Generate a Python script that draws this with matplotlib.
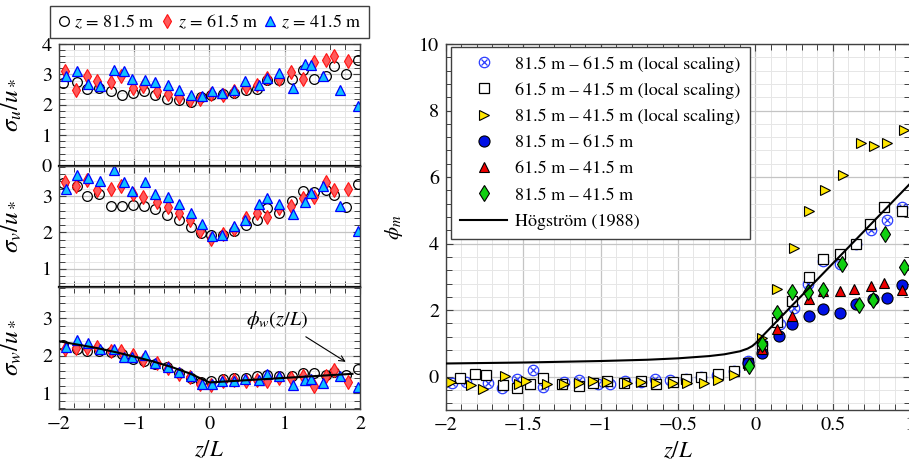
import matplotlib
matplotlib.use("Agg")
import matplotlib.pyplot as plt
from matplotlib.ticker import MultipleLocator
from matplotlib.lines import Line2D

plt.rcParams['font.family'] = ['STIXGeneral', 'DejaVu Serif']
plt.rcParams['mathtext.fontset'] = 'stix'

# ---------------- left panels: sigma / u* -----------------
x_815 = [-1.95, -1.76, -1.63, -1.47, -1.31, -1.16, -1.02, -0.87, -0.72, -0.56, -0.40, -0.25, -0.11,
         0.02, 0.18, 0.32, 0.48, 0.63, 0.77, 0.93, 1.09, 1.24, 1.39, 1.55, 1.66, 1.81, 1.97]
x_615 = [-1.92, -1.77, -1.63, -1.49, -1.31, -1.18, -1.01, -0.88, -0.70, -0.55, -0.40, -0.26, -0.12,
         0.02, 0.18, 0.32, 0.48, 0.63, 0.77, 0.93, 1.08, 1.24, 1.39, 1.55, 1.66, 1.84]
x_415 = [-1.91, -1.76, -1.61, -1.45, -1.27, -1.14, -1.03, -0.86, -0.72, -0.55, -0.40, -0.25, -0.10,
         0.03, 0.17, 0.32, 0.47, 0.66, 0.77, 0.93, 1.11, 1.27, 1.35, 1.51, 1.74, 1.98]

su_815 = [2.72, 2.74, 2.52, 2.55, 2.44, 2.33, 2.39, 2.44, 2.31, 2.19, 2.17, 2.09, 2.26,
          2.33, 2.36, 2.39, 2.50, 2.52, 2.83, 2.83, 2.86, 3.16, 2.86, 2.96, 3.27, 3.00, 3.48]
su_615 = [3.12, 2.50, 2.96, 2.77, 2.74, 2.96, 2.55, 2.63, 2.47, 2.37, 2.26, 2.17, 2.20,
          2.36, 2.33, 2.44, 2.59, 2.66, 2.88, 2.85, 3.07, 2.85, 3.40, 3.48, 3.59, 3.43]
su_415 = [2.94, 3.10, 2.68, 2.63, 3.13, 3.10, 2.85, 2.83, 2.74, 2.66, 2.50, 2.33, 2.30,
          2.47, 2.39, 2.48, 2.77, 2.66, 2.87, 3.05, 2.55, 3.34, 3.32, 2.94, 2.50, 1.97]

sv_815 = [3.35, 3.26, 3.00, 3.05, 2.72, 2.71, 2.75, 2.72, 2.64, 2.48, 2.34, 2.14, 1.97,
          1.94, 1.93, 2.04, 2.20, 2.34, 2.68, 2.54, 2.86, 3.14, 3.10, 3.15, 3.03, 2.69, 3.32]
sv_615 = [3.38, 3.28, 3.44, 3.17, 3.20, 3.26, 3.06, 2.98, 2.84, 2.69, 2.52, 2.34, 2.04,
          1.83, 1.95, 2.08, 2.39, 2.52, 2.43, 2.66, 2.71, 2.95, 2.97, 3.39, 3.17, 3.19]
sv_415 = [3.18, 3.58, 3.50, 3.41, 3.70, 3.39, 3.14, 3.39, 3.05, 2.96, 2.77, 2.52, 2.23,
          1.90, 1.94, 2.17, 2.34, 2.77, 2.95, 2.77, 2.50, 2.84, 3.09, 3.26, 2.72, 2.05]

sw_815 = [2.28, 2.19, 2.13, 2.13, 2.09, 2.05, 1.92, 1.87, 1.78, 1.69, 1.54, 1.42, 1.30,
          1.33, 1.38, 1.40, 1.42, 1.45, 1.49, 1.45, 1.47, 1.54, 1.54, 1.48, 1.58, 1.49, 1.64]
sw_615 = [2.18, 2.20, 2.20, 2.25, 2.12, 2.13, 2.03, 1.89, 1.80, 1.67, 1.52, 1.43, 1.24,
          1.23, 1.33, 1.36, 1.33, 1.36, 1.33, 1.40, 1.42, 1.45, 1.20, 1.45, 1.61, 1.29]
sw_415 = [2.25, 2.43, 2.34, 2.19, 2.18, 1.98, 1.96, 2.03, 1.82, 1.70, 1.58, 1.45, 1.25,
          1.25, 1.32, 1.32, 1.39, 1.36, 1.51, 1.45, 1.23, 1.36, 1.38, 1.27, 1.47, 1.18]

phiw_x = [-2.0, -1.75, -1.5, -1.25, -1.0, -0.75, -0.5, -0.25, -0.1, 0.0, 1.9]
phiw_y = [2.39, 2.30, 2.21, 2.10, 1.98, 1.85, 1.70, 1.52, 1.38, 1.29, 1.52]

left_labels = [r'$z\,=\,81.5$ m', r'$z\,=\,61.5$ m', r'$z\,=\,41.5$ m']

# ---------------- right panel: phi_m -----------------
ox_x = [-1.96, -1.87, -1.73, -1.64, -1.54, -1.44, -1.37, -1.24, -1.14, -1.02, -0.94, -0.84, -0.74, -0.65,
        -0.55, -0.45, -0.35, -0.25, -0.14, -0.05, 0.04, 0.16, 0.25, 0.34, 0.44, 0.55, 0.65, 0.75, 0.85, 0.95]
ox_y = [-0.18, -0.15, -0.20, -0.33, -0.08, 0.20, -0.30, -0.15, -0.10, -0.22, -0.22, -0.13, -0.15, -0.08,
        -0.10, -0.08, 0.00, 0.05, 0.17, 0.47, 0.97, 1.58, 2.08, 2.78, 3.48, 3.38, 4.00, 4.41, 4.72, 5.09]

sq_x = [-1.91, -1.81, -1.74, -1.63, -1.54, -1.46, -1.37, -1.25, -1.14, -1.05, -0.96, -0.85, -0.74, -0.64,
        -0.53, -0.45, -0.35, -0.24, -0.14, -0.05, 0.04, 0.14, 0.24, 0.35, 0.44, 0.55, 0.65, 0.74, 0.83, 0.95]
sq_y = [-0.05, 0.07, 0.05, -0.25, -0.33, -0.23, -0.03, -0.22, -0.27, -0.18, -0.13, -0.18, -0.13, -0.23,
        -0.15, -0.08, 0.00, 0.07, 0.17, 0.42, 0.92, 1.65, 2.28, 3.00, 3.55, 3.70, 3.99, 4.59, 5.09, 4.99]

tr_x = [-1.97, -1.84, -1.76, -1.62, -1.53, -1.48, -1.35, -1.24, -1.14, -1.05, -0.96, -0.83, -0.74, -0.64,
        -0.53, -0.44, -0.33, -0.24, -0.14, -0.04, 0.04, 0.14, 0.25, 0.35, 0.45, 0.57, 0.68, 0.77, 0.85, 0.96]
tr_y = [-0.15, -0.25, -0.38, 0.02, -0.23, -0.12, -0.23, -0.22, -0.18, -0.13, -0.15, -0.18, -0.15, -0.20,
        -0.18, -0.20, -0.18, -0.10, 0.05, 0.35, 1.17, 2.63, 3.86, 4.99, 5.62, 6.07, 7.02, 6.93, 7.03, 7.43]

bc_x = [-0.05, 0.04, 0.15, 0.24, 0.35, 0.44, 0.55, 0.65, 0.76, 0.85, 0.95]
bc_y = [0.40, 0.71, 1.21, 1.58, 1.82, 2.04, 1.93, 2.19, 2.35, 2.38, 2.76]

rt_x = [0.04, 0.14, 0.24, 0.35, 0.44, 0.55, 0.64, 0.75, 0.83, 0.95]
rt_y = [0.82, 1.42, 1.84, 2.33, 2.58, 2.57, 2.64, 2.72, 2.82, 2.60]

gd_x = [-0.04, 0.04, 0.14, 0.24, 0.34, 0.44, 0.56, 0.67, 0.76, 0.84, 0.96]
gd_y = [0.31, 0.97, 1.91, 2.54, 2.54, 2.61, 3.39, 2.17, 2.32, 4.29, 3.29]

hog_x = [-2.0, -1.5, -1.0, -0.7, -0.5, -0.3, -0.2, -0.1, -0.05, -0.02, 0.0, 1.5]
hog_y = [0.398, 0.427, 0.472, 0.510, 0.553, 0.620, 0.674, 0.764, 0.845, 0.922, 1.0, 8.2]

right_labels = ['81.5 m – 61.5 m (local scaling)', '61.5 m – 41.5 m (local scaling)',
                '81.5 m – 41.5 m (local scaling)', '81.5 m – 61.5 m', '61.5 m – 41.5 m',
                '81.5 m – 41.5 m', 'Högström (1988)']

# ---------------- styling helpers -----------------
SP = '#404040'


def style(ax, xmaj, xmin, ymaj, ymin):
    ax.xaxis.set_major_locator(MultipleLocator(xmaj))
    ax.xaxis.set_minor_locator(MultipleLocator(xmin))
    ax.yaxis.set_major_locator(MultipleLocator(ymaj))
    ax.yaxis.set_minor_locator(MultipleLocator(ymin))
    ax.grid(which='major', color='#c4c4c4', lw=0.9)
    ax.grid(which='minor', color='#e6e6e6', lw=0.7)
    ax.set_axisbelow(True)
    ax.tick_params(which='both', direction='in', top=True, right=True, color=SP,
                   labelsize=14.5, pad=5)
    ax.tick_params(which='major', length=5, width=0.8)
    ax.tick_params(which='minor', length=4, width=0.7)
    for s in ax.spines.values():
        s.set_color(SP)
        s.set_linewidth(1.0)


fig = plt.figure(figsize=(9.09, 4.74), dpi=100)
W, H = 909.0, 474.0
lx0, lx1 = 59, 360
ax_u = fig.add_axes([lx0 / W, 1 - 165.7 / H, (lx1 - lx0) / W, 121.7 / H])
ax_v = fig.add_axes([lx0 / W, 1 - 287 / H, (lx1 - lx0) / W, 121.3 / H])
ax_w = fig.add_axes([lx0 / W, 1 - 409 / H, (lx1 - lx0) / W, 122 / H])

circ = dict(marker='o', ls='none', ms=7, mfc='none', mec='black', mew=0.9)
dia = dict(marker='d', ls='none', ms=7, mfc='#ff5a5a', mec='#ff1010', mew=0.8)
tri = dict(marker='^', ls='none', ms=7, mfc='#10c0ff', mec='#0000ff', mew=0.9)

for ax, a, b, c in [(ax_u, su_815, su_615, su_415), (ax_v, sv_815, sv_615, sv_415),
                    (ax_w, sw_815, sw_615, sw_415)]:
    ax.plot(x_815, a, **circ)
    ax.plot(x_615, b, **dia)
    ax.plot(x_415, c, **tri)
    ax.set_xlim(-2, 2)
    style(ax, 1, 0.2, 1, 0.2)

ax_u.set_ylim(0, 4)
ax_v.set_ylim(0.5, 3.83)
ax_w.set_ylim(0.58, 3.84)
ax_u.set_yticks([0, 1, 2, 3, 4])
ax_v.set_yticks([1, 2, 3])
ax_w.set_yticks([1, 2, 3])
ax_u.tick_params(labelbottom=False)
ax_v.tick_params(labelbottom=False)
for ax in (ax_u, ax_v):
    ax.spines['bottom'].set_color('black')
    ax.spines['bottom'].set_linewidth(1.6)

ax_w.plot(phiw_x, phiw_y, color='black', lw=1.5, zorder=4)
ax_w.text(0.90, 2.96, r'$\phi_w(z/L)$', fontsize=14.5, ha='center', va='center')
ax_w.annotate('', xy=(1.81, 1.84), xytext=(1.28, 2.51),
              arrowprops=dict(arrowstyle='->', color='black', lw=0.8, shrinkA=0, shrinkB=0))

ax_u.set_ylabel(r'$\sigma_u/u_*$', fontsize=18)
ax_v.set_ylabel(r'$\sigma_v/u_*$', fontsize=18)
ax_w.set_ylabel(r'$\sigma_w/u_*$', fontsize=18)
ax_w.set_xlabel(r'$z/L$', fontsize=16.5, labelpad=5)
for ax in (ax_u, ax_v, ax_w):
    ax.yaxis.set_label_coords(-0.113, 0.5)

hl = [Line2D([], [], **circ), Line2D([], [], **dia), Line2D([], [], **tri)]
leg1 = fig.legend(hl, left_labels, ncol=3, loc='center',
                  bbox_to_anchor=((54 + 365) / 2 / W, 1 - 22 / H), bbox_transform=fig.transFigure,
                  fontsize=13, handlelength=0.7, handletextpad=0.25, columnspacing=0.3,
                  borderpad=0.4, fancybox=False, framealpha=1, edgecolor=SP)
leg1.get_frame().set_linewidth(1.0)

# right panel
ax_r = fig.add_axes([446 / W, 1 - 410 / H, 464 / W, 366 / H])
ms_r = 7.5
h_oc, = ax_r.plot(ox_x, ox_y, marker='o', ls='none', ms=ms_r, mfc='none', mec='#2a3cff', mew=0.9)
h_ox, = ax_r.plot(ox_x, ox_y, marker='x', ls='none', ms=ms_r * 0.62, mec='#2a3cff', mew=0.9)
h_sq, = ax_r.plot(sq_x, sq_y, marker='s', ls='none', ms=ms_r, mfc='white', mec='black', mew=0.9)
h_tr, = ax_r.plot(tr_x, tr_y, marker='>', ls='none', ms=ms_r, mfc='#ffe600', mec='black', mew=0.8)
h_bc, = ax_r.plot(bc_x, bc_y, marker='o', ls='none', ms=ms_r + 0.5, mfc='#0010e6', mec='black', mew=0.8)
h_rt, = ax_r.plot(rt_x, rt_y, marker='^', ls='none', ms=ms_r, mfc='#ee0000', mec='black', mew=0.8)
h_gd, = ax_r.plot(gd_x, gd_y, marker='d', ls='none', ms=ms_r + 0.5, mfc='#10d010', mec='black', mew=0.8)
h_hg, = ax_r.plot(hog_x, hog_y, color='black', lw=1.5, zorder=4)
ax_r.set_xlim(-2, 1)
ax_r.set_ylim(-1, 10)
style(ax_r, 0.5, 0.1, 2, 0.4)
ax_r.set_xticks([-2, -1.5, -1, -0.5, 0, 0.5, 1])
ax_r.set_xticklabels(['−2', '−1.5', '−1', '−0.5', '0', '0.5', '1'])
ax_r.set_xlabel(r'$z/L$', fontsize=16.5, labelpad=5)
ax_r.set_ylabel(r'$\phi_m$', fontsize=15, labelpad=10)

leg2 = ax_r.legend([(h_oc, h_ox), h_sq, h_tr, h_bc, h_rt, h_gd, h_hg], right_labels,
                   loc='upper left', bbox_to_anchor=(0.011, 0.992), borderaxespad=0,
                   fontsize=13, handlelength=2.6, handletextpad=0.45, labelspacing=0.53,
                   borderpad=0.5, fancybox=False, framealpha=1, edgecolor=SP)
leg2.get_frame().set_linewidth(1.0)

fig.savefig('out.png', dpi=100)
